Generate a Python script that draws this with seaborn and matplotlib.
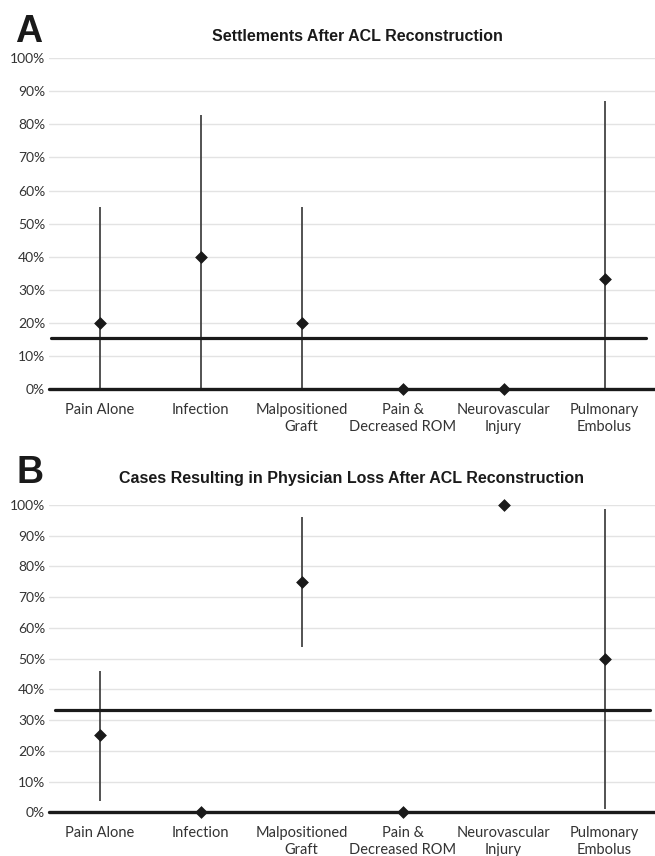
import matplotlib
matplotlib.use("Agg")
import matplotlib.pyplot as plt
import seaborn as sns
import pandas as pd
from matplotlib.ticker import PercentFormatter

# categorias e valores
categorias = ["Pain Alone", "Infection", "Malpositioned\nGraft",
              "Pain &\nDecreased ROM", "Neurovascular\nInjury", "Pulmonary\nEmbolus"]

acordo_taxa = [0.20, 0.40, 0.20, 0.0, 0.0, 0.333]
acordo_min = [0.0, 0.0, 0.0, 0.0, 0.0, 0.0]
acordo_max = [0.55, 0.83, 0.55, 0.0, 0.0, 0.87]
acordo_geral = 0.154

perda_taxa = [0.25, 0.0, 0.75, 0.0, 1.0, 0.50]
perda_min = [0.038, 0.0, 0.538, 0.0, 1.0, 0.01]
perda_max = [0.46, 0.0, 0.96, 0.0, 1.0, 0.987]
perda_geral = 0.333

sns.set_style("white")
plt.rcParams["font.family"] = ["Lato", "DejaVu Sans"]

fig = plt.figure(figsize=(6.55, 8.56), dpi=100)
fig.patch.set_facecolor("white")


def painel(ax, taxa, vmin, vmax, geral, ref_span):
    df = pd.DataFrame({"cat": categorias, "taxa": taxa, "lo": vmin, "hi": vmax})
    # pontos primeiro, para fixar a ordem das categorias
    sns.scatterplot(data=df, x="cat", y="taxa", marker="D", s=36, color="#1a1a1a",
                    edgecolor="#1a1a1a", linewidth=0.5, ax=ax, zorder=5, clip_on=False)
    # linhas de intervalo
    com_intervalo = df[df["hi"] > df["lo"]]
    ax.vlines(com_intervalo["cat"], com_intervalo["lo"], com_intervalo["hi"],
              color="#444444", lw=1.3, zorder=3)
    ax.set_xlim(-0.5, 5.5)
    ax.set_ylim(0, 1)
    ax.set_yticks([i / 10 for i in range(11)])
    ax.yaxis.set_major_formatter(PercentFormatter(1.0, decimals=0))
    ax.grid(axis="y", color="#e3e3e3", lw=1.0, zorder=0)
    ax.grid(axis="x", visible=False)
    ax.axhline(0, color="#1a1a1a", lw=2.4, zorder=4, clip_on=False)
    ax.axhline(geral, xmin=ref_span[0], xmax=ref_span[1], color="#1a1a1a", lw=2.3, zorder=4)
    for s in ax.spines.values():
        s.set_visible(False)
    ax.set_xlabel("")
    ax.set_ylabel("")
    ax.tick_params(axis="both", length=0, labelsize=10, colors="#333333")
    ax.tick_params(axis="x", labelsize=10.5, pad=10)
    ax.tick_params(axis="y", pad=3)
    for t in ax.get_xticklabels():
        t.set_linespacing(1.3)


ax1 = fig.add_axes([0.0753, 0.5456, 0.9247, 0.3863])
painel(ax1, acordo_taxa, acordo_min, acordo_max, acordo_geral, (0.002, 0.985))

ax2 = fig.add_axes([0.0753, 0.0511, 0.9247, 0.3589])
painel(ax2, perda_taxa, perda_min, perda_max, perda_geral, (0.009, 0.992))

fig.text(0.545, 0.9525, "Settlements After ACL Reconstruction", ha="center", va="baseline",
         fontsize=11.5, fontweight="bold", family="Liberation Sans", color="#1a1a1a")
fig.text(0.537, 0.4357, "Cases Resulting in Physician Loss After ACL Reconstruction",
         ha="center", va="baseline", fontsize=11.5, fontweight="bold",
         family="Liberation Sans", color="#1a1a1a")
fig.text(0.0223, 0.9513, "A", ha="left", va="baseline", fontsize=27, fontweight="bold",
         family="Liberation Sans", color="#1a1a1a")
fig.text(0.0255, 0.4354, "B", ha="left", va="baseline", fontsize=27, fontweight="bold",
         family="Liberation Sans", color="#1a1a1a")

fig.savefig("out.png", dpi=100, facecolor="white")
